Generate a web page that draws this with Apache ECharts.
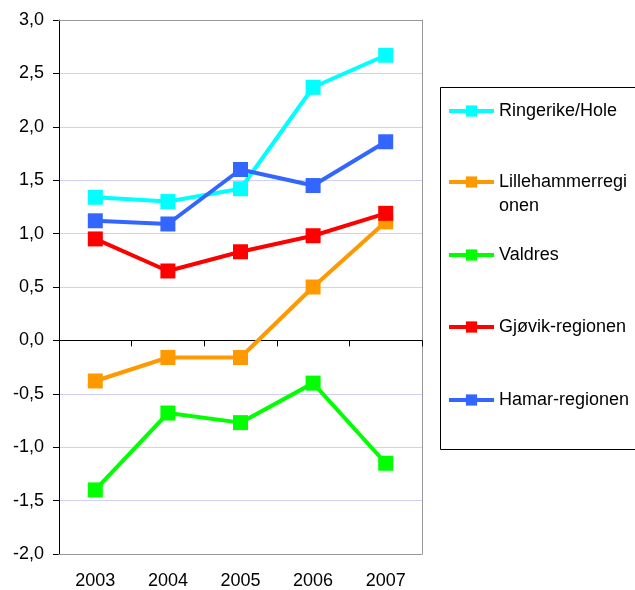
<!DOCTYPE html>
<html>
<head>
<meta charset="utf-8">
<script src="https://cdn.jsdelivr.net/npm/echarts@6/dist/echarts.min.js"></script>
<style>
  html, body { margin: 0; padding: 0; background: #fff; }
  #chart { width: 635px; height: 590px; }
</style>
</head>
<body>
<div id="chart"></div>
<script>
// data
const years = ['2003', '2004', '2005', '2006', '2007']
const seriesNames = ['Ringerike/Hole', 'Lillehammerregionen', 'Valdres', 'Gjøvik-regionen', 'Hamar-regionen']
const ringerike = [1.34, 1.30, 1.42, 2.37, 2.67]
const lillehammer = [-0.38, -0.16, -0.16, 0.50, 1.11]
const valdres = [-1.40, -0.68, -0.77, -0.40, -1.15]
const gjovik = [0.95, 0.65, 0.83, 0.98, 1.19]
const hamar = [1.12, 1.09, 1.60, 1.45, 1.86]

const values = [ringerike, lillehammer, valdres, gjovik, hamar]
const colors = ['#00ffff', '#ff9900', '#00ff00', '#ff0000', '#3366ff']

const font = '"Liberation Sans", Arial, sans-serif'
const lineH = 24
// vertical centre of each legend icon
const legendCenters = [111, 182, 255, 327, 400]

const chart = echarts.init(document.getElementById('chart'))

const series = seriesNames.map((name, i) => ({
  name: name,
  type: 'line',
  xAxisIndex: 0,
  yAxisIndex: 0,
  data: values[i],
  symbol: 'rect',
  symbolSize: 15,
  lineStyle: { width: 4, color: colors[i] },
  itemStyle: { color: colors[i] },
  animation: false
}))

const legends = seriesNames.map((name, i) => {
  const twoLines = name === 'Lillehammerregionen'
  return {
    data: [name],
    left: 447,
    top: legendCenters[i] - (twoLines ? lineH * 1.5 : lineH / 2),
    padding: 0,
    itemWidth: 45,
    itemHeight: 14,
    selectedMode: false,
    lineStyle: { width: 4 },
    // blank first line keeps the icon level with the first text line
    formatter: twoLines ? ' \nLillehammerregi\nonen' : '{name}',
    textStyle: {
      fontFamily: font,
      fontSize: 18,
      color: '#000',
      lineHeight: lineH
    }
  }
})

chart.setOption({
  backgroundColor: '#fff',
  animation: false,
  grid: { left: 59, right: 213, top: 20, bottom: 36, show: false },
  graphic: [{
    type: 'rect',
    z: 0,
    shape: { x: 440.5, y: 87.5, width: 260, height: 362 },
    style: { fill: '#fff', stroke: '#000', lineWidth: 1 }
  }],
  legend: legends,
  xAxis: [
    {
      // zero line with ticks
      type: 'category',
      data: years,
      position: 'bottom',
      z: 3,
      axisLine: { onZero: true, lineStyle: { color: '#000', width: 1 } },
      axisTick: { show: true, inside: false, length: 6, lineStyle: { color: '#000', width: 1 } },
      axisLabel: { show: false }
    },
    {
      // bottom border and year labels
      type: 'category',
      data: years,
      position: 'bottom',
      z: 1,
      axisLine: { onZero: false, lineStyle: { color: '#999', width: 1 } },
      axisTick: { show: false },
      axisLabel: { fontFamily: font, fontSize: 18, color: '#000', margin: 18 }
    },
    {
      type: 'category',
      data: years,
      position: 'top',
      z: 1,
      axisLine: { onZero: false, lineStyle: { color: '#999', width: 1 } },
      axisTick: { show: false },
      axisLabel: { show: false }
    }
  ],
  yAxis: [
    {
      type: 'value',
      min: -2,
      max: 3,
      interval: 0.5,
      z: 0,
      axisLine: { show: true, lineStyle: { color: '#000', width: 1 } },
      axisTick: { show: true, length: 6, lineStyle: { color: '#000' } },
      axisLabel: {
        fontFamily: font,
        fontSize: 18,
        color: '#000',
        margin: 15,
        formatter: (v) => v.toFixed(1).replace('.', ',')
      },
      splitLine: { show: true, lineStyle: { color: '#d0d0f8', width: 1 } }
    },
    {
      type: 'value',
      min: -2,
      max: 3,
      interval: 0.5,
      position: 'right',
      z: 1,
      axisLine: { show: true, lineStyle: { color: '#999', width: 1 } },
      axisTick: { show: false },
      axisLabel: { show: false },
      splitLine: { show: false }
    }
  ],
  series: series
})
</script>
</body>
</html>
